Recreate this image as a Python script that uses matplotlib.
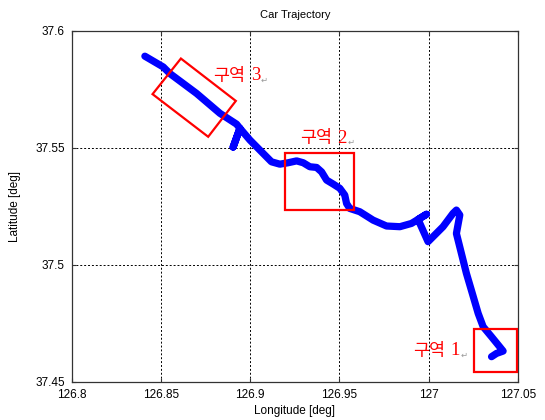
import matplotlib
matplotlib.use('Agg')
import matplotlib.pyplot as plt
from matplotlib.patches import Rectangle, Polygon

# 차량 궤적 (경도, 위도)
lon = [126.8409, 126.8512, 126.8549, 126.8699, 126.8830, 126.8923, 126.8942,
       126.8904, 126.8942,
       126.8998, 126.9063, 126.9119, 126.9166, 126.9212, 126.9260, 126.9297,
       126.9334, 126.9372, 126.9400, 126.9428, 126.9465, 126.9502, 126.9530,
       126.9540, 126.9558, 126.9614, 126.9689, 126.9764, 126.9839, 126.9904,
       126.9941, 126.9988, 126.9941,
       126.9997, 127.0081, 127.0137, 127.0156, 127.0175, 127.0156, 127.0212,
       127.0248, 127.0278, 127.0306, 127.0353, 127.0399, 127.0418, 127.0381,
       127.0353]
lat = [37.5891, 37.5845, 37.5817, 37.5732, 37.5647, 37.5601, 37.5583,
       37.5503, 37.5583,
       37.5533, 37.5483, 37.5440, 37.5430, 37.5436, 37.5444, 37.5436,
       37.5419, 37.5416, 37.5397, 37.5362, 37.5345, 37.5327, 37.5298,
       37.5262, 37.5241, 37.5227, 37.5191, 37.5166, 37.5163, 37.5177,
       37.5194, 37.5216, 37.5194,
       37.5099, 37.5163, 37.5220, 37.5234, 37.5213, 37.5134, 37.4964,
       37.4871, 37.4793, 37.4736, 37.4693, 37.4650, 37.4632, 37.4622,
       37.4608]

# 구역 표시
zone1 = (127.0253, 37.4544, 0.0240, 0.0181)  # x, y, w, h
zone2 = (126.9194, 37.5234, 0.0388, 0.0244)
zone3 = [(126.8611, 37.5881), (126.8919, 37.5700),
         (126.8764, 37.5547), (126.8452, 37.5729)]

labels = ['구역', '구역', '구역']
label_nums = ['1', '2', '3']
label_pos = [(126.9913, 37.4634), (126.9278, 37.5541), (126.8792, 37.5808)]

xticks = [126.8, 126.85, 126.9, 126.95, 127, 127.05]
xticklabels = ['126.8', '126.85', '126.9', '126.95', '127', '127.05']
yticks = [37.45, 37.5, 37.55, 37.6]
yticklabels = ['37.45', '37.5', '37.55', '37.6']

plt.rcParams['font.family'] = ['Liberation Sans', 'DejaVu Sans']

fig = plt.figure(figsize=(5.45, 4.2), dpi=100)
ax = fig.add_axes([0.132, 0.0905, 0.818, 0.8365])

ax.plot(lon, lat, color='#0000ff', lw=5.2, solid_capstyle='round',
        solid_joinstyle='round', zorder=3)

ax.add_patch(Rectangle(zone1[:2], zone1[2], zone1[3], fill=False,
                       ec='#ff0000', lw=1.6, zorder=4))
ax.add_patch(Rectangle(zone2[:2], zone2[2], zone2[3], fill=False,
                       ec='#ff0000', lw=1.6, zorder=4))
ax.add_patch(Polygon(zone3, closed=True, fill=False, ec='#ff0000',
                     lw=1.6, zorder=4))

for t, n, (x, y) in zip(labels, label_nums, label_pos):
    kr = ax.text(x, y, t, color='#ff0000', fontsize=12.5, va='center',
                 ha='left', family=['Noto Sans CJK KR', 'DejaVu Sans'],
                 zorder=5)
    num = ax.annotate(n, xy=(1, 0.5), xycoords=kr, xytext=(4, 0),
                      textcoords='offset points', color='#ff0000',
                      fontsize=13.5, va='center', ha='left',
                      family=['Liberation Serif'], zorder=5)
    ax.annotate('↵', xy=(1, 0.25), xycoords=num, xytext=(0.5, 0),
                textcoords='offset points', color='#999999', fontsize=6,
                va='center', ha='left', family=['DejaVu Sans'], zorder=5)

ax.set_xlim(126.8, 127.05)
ax.set_ylim(37.45, 37.6)
ax.set_xticks(xticks)
ax.set_xticklabels(xticklabels)
ax.set_yticks(yticks)
ax.set_yticklabels(yticklabels)
ax.tick_params(direction='in', length=3, labelsize=8.5, pad=5,
               top=True, right=True, color='#333333')
ax.grid(True, color='black', linestyle=(0, (2, 2)), lw=0.7)
for s in ax.spines.values():
    s.set_color('#333333')
    s.set_linewidth(0.9)

ax.set_title('Car Trajectory', fontsize=8, pad=9)
ax.set_xlabel('Longitude [deg]', fontsize=8.5, labelpad=3)
ax.set_ylabel('Latitude [deg]', fontsize=8.5, labelpad=10)

fig.savefig('out.png', dpi=100, facecolor='white')
